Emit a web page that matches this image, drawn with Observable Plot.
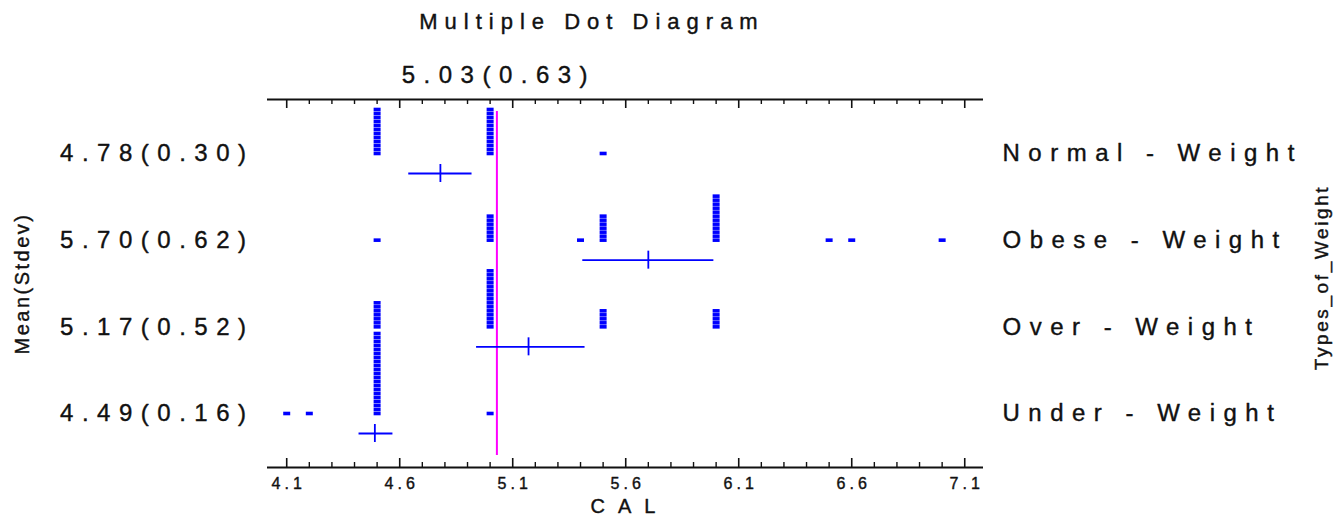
<!DOCTYPE html>
<html><head><meta charset="utf-8">
<script src="https://cdn.jsdelivr.net/npm/d3@7"></script>
<script src="https://cdn.jsdelivr.net/npm/@observablehq/plot@0.6"></script>
<style>
body{margin:0;background:#fff;font-family:"Liberation Sans",Arial,sans-serif;}
#title{width:1184px;height:44px;line-height:44px;text-align:center;font-size:22px;letter-spacing:7px;color:#111;-webkit-text-stroke:0.4px #111;}
</style></head><body>
<div id="title">Multiple Dot Diagram</div>
<div id="chart"></div>
<script>
// ---- data ----
const groups = ["Normal - Weight", "Obese - Weight", "Over - Weight", "Under - Weight"];
const means  = [4.78, 5.70, 5.17, 4.49];
const sds    = [0.30, 0.62, 0.52, 0.16];
const barLo  = [4.64, 5.41, 4.94, 4.42];
const barHi  = [4.92, 5.99, 5.42, 4.57];
const grandMean = 5.03, grandSd = 0.63;

const normalValues = [4.5, 5.0, 5.5];
const normalCounts = [12, 12, 1];
const obeseValues  = [4.5, 5.0, 5.4, 5.5, 6.0, 6.5, 6.6, 7.0];
const obeseCounts  = [1, 7, 1, 7, 12, 1, 1, 1];
const overValues   = [4.5, 5.0, 5.5, 6.0];
const overCounts   = [7, 15, 5, 5];
const underValues  = [4.1, 4.2, 4.5, 5.0];
const underCounts  = [1, 1, 21, 1];

const majorTicks = [4.1, 4.6, 5.1, 5.6, 6.1, 6.6, 7.1];
const xLabel = "CAL";
const yLabelLeft = "Mean(Stdev)";
const yLabelRight = "Types_of_Weight";

// ---- layout helpers (stacked dot levels) ----
const ROW = 86.67 / 4;          // row spacing in dot levels
const valueSets = [[normalValues, normalCounts], [obeseValues, obeseCounts], [overValues, overCounts], [underValues, underCounts]];
const rows = groups.map((g, i) => ({
  group: g, mean: means[i], sd: sds[i], lo: barLo[i], hi: barHi[i],
  base: (groups.length - 1 - i) * ROW
}));
rows.forEach(r => r.bar = r.base - 5);
const dots = [];
valueSets.forEach(([vals, cnts], i) => {
  vals.forEach((v, j) => { for (let k = 0; k < cnts[j]; k++) dots.push({x: v, y: rows[i].base + k}); });
});
const minorTicks = d3.range(41, 72).map(d => d / 10).filter(d => !majorTicks.some(m => Math.abs(m - d) < 1e-9));
const yDomain = [-13.5, 78.5];
const PH = 368;
const rectSymbol = {draw(ctx) { ctx.rect(-3.5, -1.8, 7, 3.6); }};
const fmt = d3.format(".2f");
const ink = "#111";
const txt = {fill: ink, stroke: ink, strokeWidth: 0.4};

const chart = Plot.plot({
  width: 1344, height: 475,
  marginLeft: 267, marginRight: 361, marginTop: 55, marginBottom: 52,
  x: {domain: [4.015, 7.183], axis: null},
  y: {domain: yDomain, axis: null},
  style: {fontFamily: '"Liberation Sans", Arial, sans-serif', background: "#fff", color: ink},
  marks: [
    // axes lines
    Plot.ruleY([yDomain[0]], {stroke: ink, strokeWidth: 2}),
    Plot.ruleY([yDomain[1]], {stroke: ink, strokeWidth: 2}),
    Plot.ruleX(majorTicks, {x: d => d, insetTop: PH - 9, stroke: ink, strokeWidth: 1.6}),
    Plot.ruleX(majorTicks, {x: d => d, insetBottom: PH - 9, stroke: ink, strokeWidth: 1.6}),
    Plot.ruleX(minorTicks, {x: d => d, insetTop: PH - 5, stroke: ink, strokeWidth: 1.4}),
    Plot.ruleX(minorTicks, {x: d => d, insetBottom: PH - 5, stroke: ink, strokeWidth: 1.4}),
    // tick labels
    Plot.text(majorTicks, {x: d => d, text: d => d.toFixed(1), frameAnchor: "bottom", lineAnchor: "middle", dy: 16, dx: 2, fontSize: 16, ...txt}),
    Plot.text([xLabel], {frameAnchor: "bottom", lineAnchor: "middle", dy: 39, dx: 4, fontSize: 20, ...txt}),
    // grand mean line
    Plot.ruleX([grandMean], {stroke: "#ff00ff", strokeWidth: 2, insetTop: 12, insetBottom: 12}),
    Plot.text([grandMean], {x: d => d, text: d => `${fmt(d)}(${fmt(grandSd)})`, frameAnchor: "top", lineAnchor: "middle", dy: -24, dx: 2, fontSize: 24, ...txt}),
    // dots
    Plot.dot(dots, {x: "x", y: "y", symbol: rectSymbol, fill: "#0000ff", stroke: null}),
    // mean +- bars
    Plot.ruleY(rows, {y: "bar", x1: "lo", x2: "hi", stroke: "#0000ff", strokeWidth: 1.8}),
    Plot.ruleX(rows, {x: "mean", y1: d => d.bar - 2.25, y2: d => d.bar + 2.25, stroke: "#0000ff", strokeWidth: 1.8}),
    // row labels
    Plot.text(rows, {y: "base", text: d => `${fmt(d.mean)}(${fmt(d.sd)})`, frameAnchor: "left", textAnchor: "end", dx: -13, fontSize: 24, ...txt}),
    Plot.text(rows, {y: "base", text: "group", frameAnchor: "right", textAnchor: "start", dx: 19, fontSize: 23.99, ...txt}),
    // side titles
    Plot.text([yLabelLeft], {frameAnchor: "left", textAnchor: "middle", dx: -245, rotate: -90, fontSize: 20, ...txt}),
    Plot.text([yLabelRight], {frameAnchor: "right", textAnchor: "middle", dx: 338, dy: -6, rotate: -90, fontSize: 19, ...txt})
  ]
});
const sel = d3.select(chart);
sel.selectAll('g[font-size="24"]').attr("letter-spacing", "8.5px");
sel.selectAll('g[font-size="23.99"]').attr("letter-spacing", "8.5px");
sel.selectAll('g[font-size="16"]').attr("letter-spacing", "4px");
sel.selectAll('g[font-size="20"]').attr("letter-spacing", "2.5px");
sel.selectAll('g[font-size="19"]').attr("letter-spacing", "2.6px");
// x label gets wider spacing
sel.selectAll('text').filter(function() { return this.textContent === xLabel; }).attr("letter-spacing", "13px");
document.getElementById("chart").appendChild(chart);
</script>
</body></html>
